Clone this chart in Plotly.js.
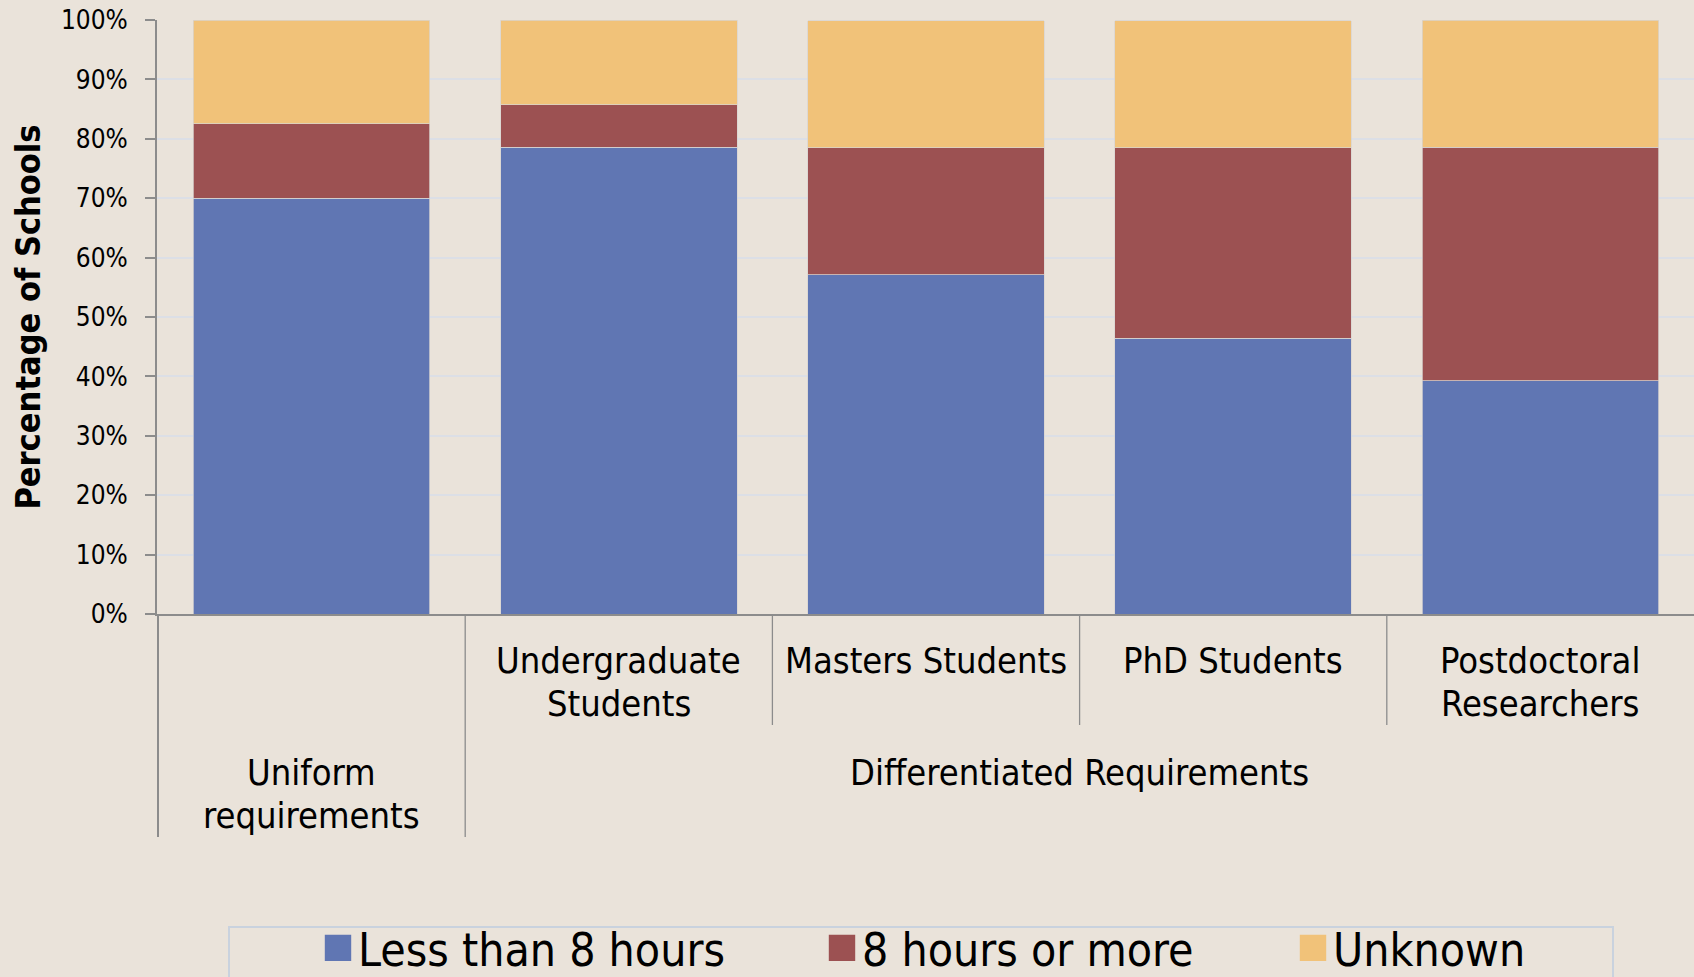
<!DOCTYPE html>
<html>
<head>
<meta charset="utf-8">
<script src="https://cdn.plot.ly/plotly-3.0.1.min.js"></script>
<style>
  html, body { margin: 0; padding: 0; background: #eae3da; }
  #chart { width: 1694px; height: 977px; }
</style>
</head>
<body>
<div id="chart"></div>
<script>
// ---- data ----
const categories = ['Uniform requirements', 'Undergraduate Students', 'Masters Students', 'PhD Students', 'Postdoctoral Researchers'];
const categoryLabels = ['', 'Undergraduate<br>Students', 'Masters Students', 'PhD Students', 'Postdoctoral<br>Researchers'];
const groupNames = ['Uniform<br>requirements', 'Differentiated Requirements'];
const groupSpans = [[0, 0], [1, 4]];
const seriesNames = ['Less than 8 hours', '8 hours or more', 'Unknown'];
const lessThan8 = [70.0, 78.6, 57.1, 46.4, 39.3];
const eightOrMore = [12.5, 7.1, 21.4, 32.1, 39.3];
const unknown = [17.5, 14.3, 21.4, 21.4, 21.4];
const yTicks = [0, 10, 20, 30, 40, 50, 60, 70, 80, 90, 100];
const yTickLabels = ['0%', '10%', '20%', '30%', '40%', '50%', '60%', '70%', '80%', '90%', '100%'];

// ---- style ----
const colors = ['#6076b3', '#9c5152', '#f1c279'];
const FONT = 'DejaVu Sans Condensed, DejaVu Sans, sans-serif';
const bg = '#eae3da';
const axisGrey = '#8c8c8c';

const seriesValues = [lessThan8, eightOrMore, unknown];
const legendIds = ['legend', 'legend2', 'legend3'];

const traces = seriesValues.map((vals, i) => ({
  type: 'bar',
  name: seriesNames[i],
  x: categories,
  y: vals,
  marker: { color: colors[i], line: { color: '#d8d4d0', width: 0.75 } },
  legend: legendIds[i],
  hoverinfo: 'x+y+name'
}));

// plot area geometry in px (for converting to paper coords)
const L = 157, T = 20, B = 363, W = 1694, H = 977;
const plotW = W - L, plotH = H - T - B;
const py = px => (H - B - px) / plotH;   // pixel y -> paper y
const pxX = px => (px - L) / plotW;      // pixel x -> paper x

const labelFont = { family: FONT, size: 36, color: '#000' };
const annotations = [];
function addLines(text, x, firstCenterPx, lineStepPx) {
  text.split('<br>').forEach((line, j) => {
    annotations.push({
      text: line, xref: 'x', x: x, yref: 'paper', y: py(firstCenterPx + j * lineStepPx),
      yanchor: 'middle', xanchor: 'center', showarrow: false, font: labelFont
    });
  });
}
categoryLabels.forEach((t, i) => { if (t) addLines(t, categories[i], 660, 43); });
groupNames.forEach((t, g) => {
  const a = groupSpans[g][0], b = groupSpans[g][1];
  addLines(t, (a + b) / 2, 772, 43);
});

const shapes = [];
// dividers below the axis
for (let k = 0; k < categories.length; k++) {
  const xk = k - 0.5;
  const long = groupSpans.some(s => s[0] === k);
  shapes.push({
    type: 'line', xref: 'x', yref: 'paper',
    x0: xk, x1: xk, y0: 0, y1: py(long ? 837 : 725),
    line: { color: axisGrey, width: k === 0 ? 2 : 1.3 }
  });
}
// legend frame
shapes.push({
  type: 'rect', xref: 'paper', yref: 'paper',
  x0: pxX(229), x1: pxX(1613), y0: py(927), y1: py(1010),
  line: { color: '#c9d2de', width: 2 }, fillcolor: 'rgba(0,0,0,0)'
});

const legendFont = { family: FONT, size: 46, color: '#000' };
const legendX = [318, 822, 1293];
const layout = {
  width: W, height: H,
  paper_bgcolor: bg, plot_bgcolor: bg,
  margin: { l: L, r: 0, t: T, b: B, autoexpand: false },
  barmode: 'stack',
  bargap: 0.23,
  showlegend: true,
  xaxis: {
    type: 'category',
    showticklabels: false, ticks: '',
    showline: true, linecolor: axisGrey, linewidth: 2,
    showgrid: false, zeroline: false, fixedrange: true
  },
  yaxis: {
    range: [0, 100], tickmode: 'array', tickvals: yTicks, ticktext: yTickLabels,
    ticks: 'outside', ticklen: 10, tickwidth: 2, tickcolor: axisGrey,
    showline: true, linecolor: axisGrey, linewidth: 2,
    showgrid: true, gridcolor: '#dcdfe6', gridwidth: 2,
    zeroline: false, ticklabelstandoff: 12,
    tickfont: { family: FONT, size: 26, color: '#000' },
    title: { text: 'Percentage of Schools', standoff: 10,
             font: { family: FONT, size: 34, color: '#000', weight: 'bold' } },
    fixedrange: true
  },
  annotations: annotations,
  shapes: shapes
};
legendIds.forEach((id, i) => {
  layout[id] = {
    orientation: 'h', x: pxX(legendX[i]), xanchor: 'left',
    y: py(948), yanchor: 'middle',
    bgcolor: 'rgba(0,0,0,0)', borderwidth: 0,
    font: legendFont
  };
});

Plotly.newPlot('chart', traces, layout, { displayModeBar: false, staticPlot: true }).then(() => {
  document.querySelectorAll('.legendpoints path').forEach(p => {
    const t = p.getAttribute('transform') || '';
    p.setAttribute('transform', t + ' scale(2.2)');
    p.style.strokeWidth = '0';
  });
});
</script>
</body>
</html>
